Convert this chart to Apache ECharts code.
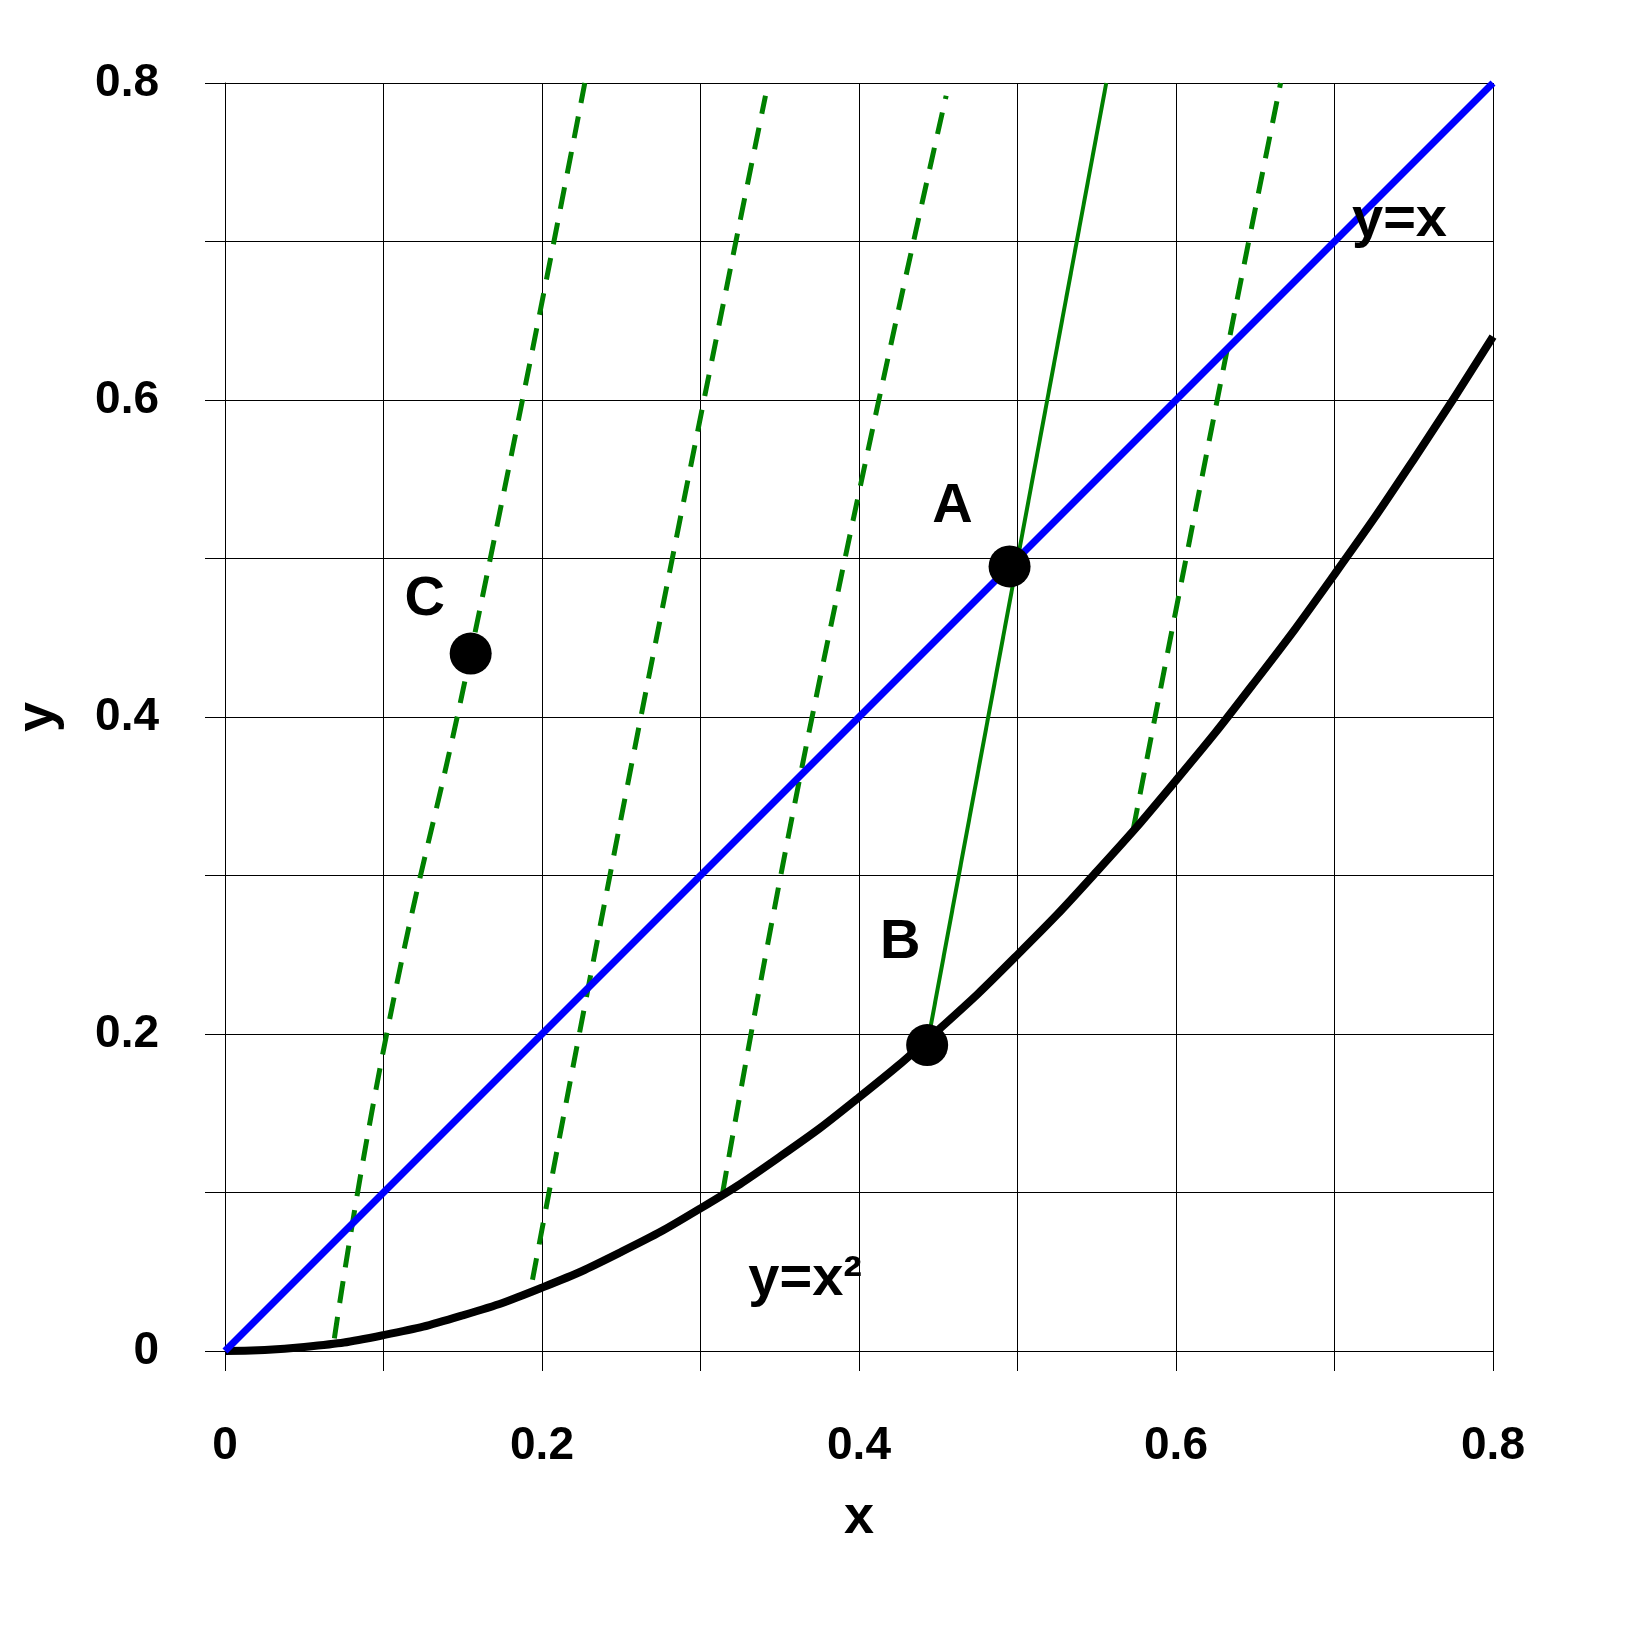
<!DOCTYPE html>
<html>
<head>
<meta charset="utf-8">
<script src="https://cdn.jsdelivr.net/npm/echarts@6/dist/echarts.min.js"></script>
<style>html,body{margin:0;padding:0;background:#fff}#echart{width:1638px;height:1644px}</style>
</head>
<body>
<div id="echart"></div>
<script>
var parabola = [[0,0],[0.05,0.0025],[0.1,0.01],[0.15,0.0225],[0.2,0.04],[0.25,0.0625],[0.3,0.09],[0.35,0.1225],[0.4,0.16],[0.45,0.2025],[0.5,0.25],[0.55,0.3025],[0.6,0.36],[0.65,0.4225],[0.7,0.49],[0.75,0.5625],[0.8,0.64]];
var diagonal = [[0,0],[0.8,0.8]];
var solidGreen = [[0.443,0.193],[0.556,0.8]];
var dashed1 = [[0.069,0.008],[0.102,0.2],[0.155,0.44],[0.227,0.8]];
var dashed2 = [[0.194,0.045],[0.262,0.398],[0.341,0.792]];
var dashed3 = [[0.314,0.1],[0.370,0.398],[0.455,0.792]];
var dashed4 = [[0.573,0.329],[0.626,0.6],[0.666,0.8]];
var points = [[0.495,0.495],[0.443,0.193],[0.155,0.44]];
var labels = [
  {name: 'A', coord: [0.459,0.533]},
  {name: 'B', coord: [0.426,0.258]},
  {name: 'C', coord: [0.126,0.474]},
  {name: 'y=x', coord: [0.741,0.713]},
  {name: 'y=x²', coord: [0.366,0.045]}
];

var chartDom = document.getElementById('echart');
var myChart = echarts.init(chartDom);
var font = 'Liberation Sans';

function dashedSeries(data) {
  return {type: 'line', data: data, smooth: true, symbol: 'none',
    lineStyle: {color: '#008000', width: 5, type: [22, 14]}, z: 3};
}

function tickFormat(v) {
  var r = Math.round(v * 10);
  return r % 2 === 0 ? (r === 0 ? '0' : (r / 10).toString()) : '';
}

var axisCommon = {
  type: 'value', min: 0, max: 0.8, interval: 0.1,
  axisLine: {show: true, lineStyle: {color: '#000', width: 1}},
  axisTick: {show: true, length: 20, lineStyle: {color: '#000'}},
  splitLine: {show: true, lineStyle: {color: '#000', width: 1}},
  nameTextStyle: {fontFamily: font, fontWeight: 'bold', fontSize: 54, color: '#000'}
};

var option = {
  animation: false,
  grid: {left: 225, right: 145, top: 83, bottom: 293},
  xAxis: Object.assign({}, axisCommon, {
    name: 'x', nameLocation: 'middle', nameGap: 140,
    axisLabel: {margin: 72, fontFamily: font, fontWeight: 'bold', fontSize: 46, color: '#000', formatter: tickFormat}
  }),
  yAxis: Object.assign({}, axisCommon, {
    name: 'y', nameLocation: 'middle', nameGap: 160,
    axisLabel: {margin: 66, fontFamily: font, fontWeight: 'bold', fontSize: 46, color: '#000', formatter: tickFormat}
  }),
  series: [
    {type: 'line', data: parabola, smooth: true, symbol: 'none', lineStyle: {color: '#000', width: 8}, z: 4},
    {type: 'line', data: diagonal, symbol: 'none', lineStyle: {color: '#0000ff', width: 7}, z: 5},
    {type: 'line', data: solidGreen, symbol: 'none', lineStyle: {color: '#008000', width: 4}, z: 6},
    dashedSeries(dashed1), dashedSeries(dashed2), dashedSeries(dashed3), dashedSeries(dashed4),
    {type: 'scatter', data: points, symbolSize: 42, itemStyle: {color: '#000', opacity: 1}, z: 7},
    {type: 'scatter', data: labels.map(function (l) { return {value: l.coord, label: {formatter: l.name}}; }),
      symbolSize: 0, z: 8, itemStyle: {opacity: 1},
      label: {show: true, position: 'inside', fontFamily: font, fontWeight: 'bold', fontSize: 56, color: '#000', opacity: 1}}
  ]
};

myChart.setOption(option);
</script>
</body>
</html>
